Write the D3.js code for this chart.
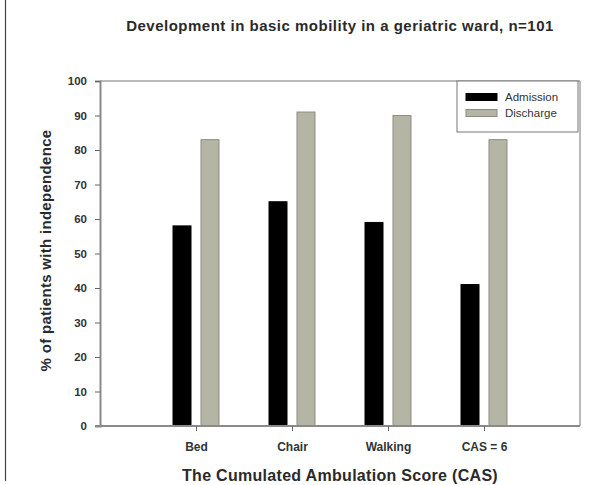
<!DOCTYPE html>
<html><head><meta charset="utf-8">
<script src="https://cdn.jsdelivr.net/npm/d3@7"></script>
<style>body{margin:0;background:#fff}svg{display:block;font-family:"Liberation Sans",Arial,sans-serif}</style>
</head><body>
<script>
const categories = ["Bed","Chair","Walking","CAS = 6"];
const admission = [58,65,59,41];
const discharge = [83,91,90,83];
const seriesNames = ["Admission","Discharge"];
const yTicks = [0,10,20,30,40,50,60,70,80,90,100];

const W=598,H=485;
const m={l:100,r:18,t:81,b:59};
const svg=d3.select("body").append("svg").attr("width",W).attr("height",H);
const x=d3.scaleLinear().domain([0,categories.length+1]).range([m.l,W-m.r]);
const y=d3.scaleLinear().domain([0,100]).range([H-m.b,m.t]);
const barW=18, off=14;
const colors=["#000000","#b5b5a6"];
const strokes=["#000000","#8c8c80"];

// left page line
svg.append("line").attr("x1",5.5).attr("x2",5.5).attr("y1",0).attr("y2",481).attr("stroke","#444").attr("stroke-width",1.2);

// title
svg.append("text").attr("x",(x.range()[0]+x.range()[1])/2).attr("y",31).attr("text-anchor","middle")
  .attr("font-weight","bold").attr("font-size",15).attr("letter-spacing",0.5).attr("fill","#2a2a2a").text("Development in basic mobility in a geriatric ward, n=101");

// frame top and right
svg.append("path").attr("d",`M${m.l},${m.t}H${W-m.r}V${H-m.b}`).attr("fill","none").attr("stroke","#777").attr("stroke-width",1);

// bars
const data=categories.map((c,i)=>({c,i,v:[admission[i],discharge[i]]}));
data.forEach(d=>{
  d.v.forEach((v,s)=>{
    const cx=x(d.i+1)+(s===0?-off:off);
    svg.append("rect").attr("x",cx-barW/2).attr("width",barW).attr("y",y(v)).attr("height",y(0)-y(v))
      .attr("fill",colors[s]).attr("stroke",strokes[s]).attr("stroke-width",1);
  });
});

// y axis
const yAxis=d3.axisLeft(y).tickValues(yTicks).tickSize(5).tickPadding(8);
const gy=svg.append("g").attr("transform",`translate(${m.l},0)`).call(yAxis);
gy.select(".domain").attr("stroke","#8a8a8a").attr("stroke-width",2);
gy.selectAll(".tick line").attr("stroke","#666");
gy.selectAll(".tick text").attr("font-weight","bold").attr("font-size",11.5).attr("fill","#333").attr("font-family","Liberation Sans, Arial, sans-serif");

// x axis
const xAxis=d3.axisBottom(x).tickValues(categories.map((c,i)=>i+1)).tickFormat((d)=>categories[d-1]).tickSize(5).tickPadding(11);
const gx=svg.append("g").attr("transform",`translate(0,${y(0)})`).call(xAxis);
gx.select(".domain").attr("stroke","#8a8a8a").attr("stroke-width",2).attr("d",`M${m.l-5},0H${W-m.r}`);
gx.selectAll(".tick line").attr("stroke","#666");
gx.selectAll(".tick text").attr("font-weight","bold").attr("font-size",12).attr("fill","#333").attr("font-family","Liberation Sans, Arial, sans-serif");

// axis titles
svg.append("text").attr("x",(x.range()[0]+x.range()[1])/2).attr("y",481).attr("text-anchor","middle")
  .attr("font-weight","bold").attr("font-size",16).attr("letter-spacing",0.3).attr("fill","#2a2a2a").text("The Cumulated Ambulation Score (CAS)");
svg.append("text").attr("transform",`translate(51,${(y(0)+y(100))/2 - 3}) rotate(-90)`).attr("text-anchor","middle")
  .attr("font-weight","bold").attr("font-size",15).attr("letter-spacing",0.3).attr("fill","#2a2a2a").text("% of patients with independence");

// legend
const lg=svg.append("g");
lg.append("rect").attr("x",457).attr("y",m.t).attr("width",W-m.r-457-2).attr("height",51).attr("fill","#fff").attr("stroke","#777").attr("stroke-width",1);
seriesNames.forEach((n,i)=>{
  lg.append("rect").attr("x",466).attr("y",93.5+i*16).attr("width",31).attr("height",7).attr("fill",colors[i]).attr("stroke",strokes[i]);
  lg.append("text").attr("x",505).attr("y",101+i*16).attr("font-size",11.5).attr("fill","#333").text(n);
});
</script>
</body></html>
